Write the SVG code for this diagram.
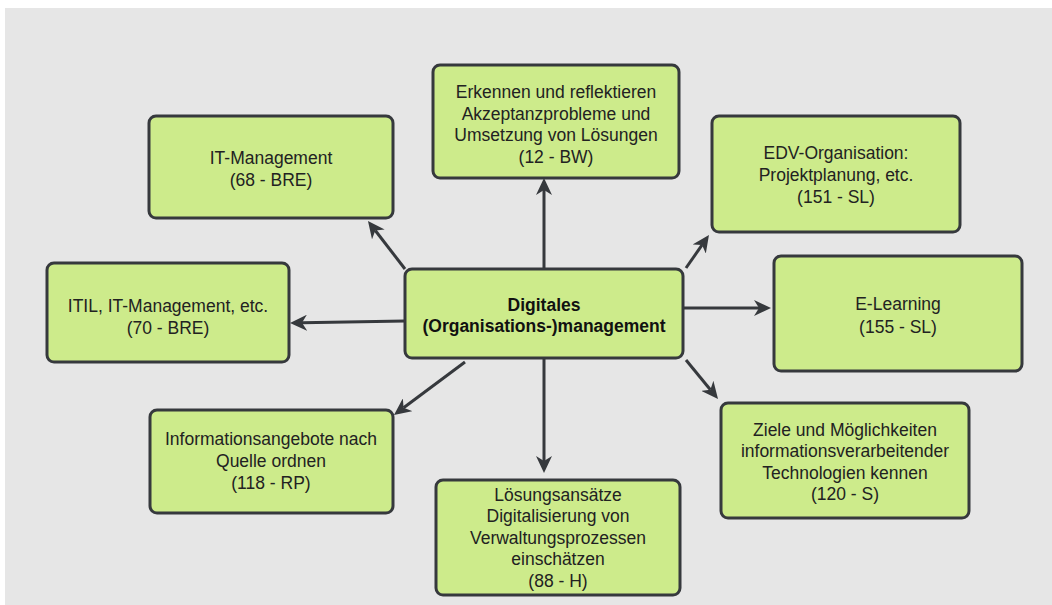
<svg xmlns="http://www.w3.org/2000/svg" width="1052" height="605" viewBox="0 0 1052 605">
<style>
.box{fill:#cdeb8b;stroke:#36393d;stroke-width:3}
.t{font-family:"Liberation Sans",Arial,sans-serif;font-size:17.5px;fill:#222;text-anchor:middle;dominant-baseline:central}
.b{font-weight:bold;fill:#111}
.c{stroke:#36393d;stroke-width:3;fill:none;marker-end:url(#ah)}
</style>
<defs>
<marker id="ah" viewBox="0 0 17 16" refX="5" refY="8" markerWidth="17" markerHeight="16" markerUnits="userSpaceOnUse" orient="auto">
<path d="M0,0 L17,8 L0,16 L5,8 Z" fill="#36393d"/>
</marker>
</defs>
<rect x="0" y="0" width="1052" height="605" fill="#ffffff"/>
<rect x="5" y="8" width="1047" height="597" fill="#e6e6e6"/>
<g id="connectors">
<line class="c" x1="544" y1="269" x2="544" y2="190"/>
<line class="c" x1="405" y1="269" x2="375.3" y2="230.5"/>
<line class="c" x1="686" y1="268" x2="702.1" y2="244.9"/>
<line class="c" x1="684" y1="308" x2="759" y2="308"/>
<line class="c" x1="405" y1="321" x2="302" y2="322.8"/>
<line class="c" x1="465" y1="362" x2="403.6" y2="407.8"/>
<line class="c" x1="544" y1="358" x2="544" y2="461"/>
<line class="c" x1="686" y1="360" x2="710.4" y2="389.7"/>
</g>
<g id="center">
<rect class="box" x="405" y="269" width="278" height="89" rx="7"/>
<text class="t b" x="544" y="305">Digitales</text>
<text class="t b" x="544" y="326">(Organisations-)management</text>
</g>
<g id="top">
<rect class="box" x="433" y="65" width="246" height="113" rx="7"/>
<text class="t" x="556" y="92">Erkennen und reflektieren</text>
<text class="t" x="556" y="113.5">Akzeptanzprobleme und</text>
<text class="t" x="556" y="135">Umsetzung von Lösungen</text>
<text class="t" x="556" y="156.5">(12 - BW)</text>
</g>
<g id="itmanagement">
<rect class="box" x="149" y="116" width="244" height="102" rx="7"/>
<text class="t" x="271" y="157.5">IT-Management</text>
<text class="t" x="271" y="180">(68 - BRE)</text>
</g>
<g id="edv">
<rect class="box" x="712" y="116" width="248" height="116" rx="7"/>
<text class="t" x="836" y="153">EDV-Organisation:</text>
<text class="t" x="836" y="175">Projektplanung, etc.</text>
<text class="t" x="836" y="197">(151 - SL)</text>
</g>
<g id="elearning">
<rect class="box" x="774" y="256" width="248" height="115" rx="7"/>
<text class="t" x="898" y="304">E-Learning</text>
<text class="t" x="898" y="326.5">(155 - SL)</text>
</g>
<g id="itil">
<rect class="box" x="47" y="263" width="242" height="99" rx="7"/>
<text class="t" x="168" y="306">ITIL, IT-Management, etc.</text>
<text class="t" x="168" y="328">(70 - BRE)</text>
</g>
<g id="info">
<rect class="box" x="150" y="410" width="243" height="103" rx="7"/>
<text class="t" x="271" y="438.5">Informationsangebote nach</text>
<text class="t" x="271" y="460.5">Quelle ordnen</text>
<text class="t" x="271" y="483">(118 - RP)</text>
</g>
<g id="loesung">
<rect class="box" x="436" y="480" width="244" height="115" rx="7"/>
<text class="t" x="558" y="495">Lösungsansätze</text>
<text class="t" x="558" y="516">Digitalisierung von</text>
<text class="t" x="558" y="537.5">Verwaltungsprozessen</text>
<text class="t" x="558" y="559">einschätzen</text>
<text class="t" x="558" y="580.5">(88 - H)</text>
</g>
<g id="ziele">
<rect class="box" x="721" y="403" width="248" height="115" rx="7"/>
<text class="t" x="845" y="429.5">Ziele und Möglichkeiten</text>
<text class="t" x="845" y="451">informationsverarbeitender</text>
<text class="t" x="845" y="472.5">Technologien kennen</text>
<text class="t" x="845" y="494">(120 - S)</text>
</g>
</svg>
